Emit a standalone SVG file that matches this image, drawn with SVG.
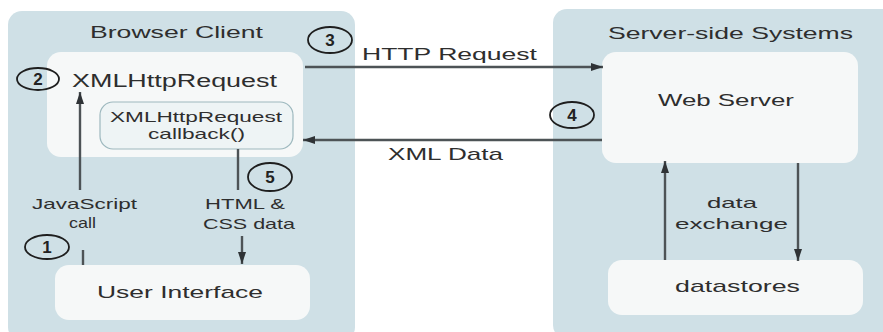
<svg xmlns="http://www.w3.org/2000/svg" width="883" height="332" viewBox="0 0 883 332">
  <style>
    .panel { fill: #cfe0e6; }
    .box { fill: #f6f8f8; }
    .cb { fill: #eef4f5; stroke: #9db8be; stroke-width: 1.2; }
    .t { font-family: "Liberation Sans", Arial, sans-serif; fill: #2e2e2e; }
    .big { font-size: 17px; }
    .med { font-size: 15px; }
    .num { font-family: "Liberation Sans", Arial, sans-serif; font-size: 17px; font-weight: bold; fill: #222; text-anchor: middle; }
    .badge { fill: none; stroke: #1e1e1e; stroke-width: 1.8; }
    .conn { stroke: #4d5356; stroke-width: 2.4; fill: none; }
  </style>
  <defs>
    <marker id="arrow" viewBox="0 0 12 8" refX="12" refY="4" markerWidth="12" markerHeight="8" markerUnits="userSpaceOnUse" orient="auto">
      <path d="M0,0 L12,4 L0,8 z" fill="#2f3336"/>
    </marker>
  </defs>

  <rect width="883" height="332" fill="#ffffff"/>

  <g id="browser-client">
    <rect class="panel" x="8" y="11" width="347" height="330" rx="14"/>
    <text class="t big" x="90" y="38" textLength="173" lengthAdjust="spacingAndGlyphs">Browser Client</text>
  </g>

  <g id="server-side">
    <rect class="panel" x="553" y="9" width="345" height="330" rx="14"/>
    <text class="t big" x="608" y="39" textLength="245" lengthAdjust="spacingAndGlyphs">Server-side Systems</text>
  </g>

  <g id="xhr">
    <rect class="box" x="47" y="52" width="256" height="105" rx="14"/>
    <text class="t" style="font-size:18px" x="72" y="87" textLength="205" lengthAdjust="spacingAndGlyphs">XMLHttpRequest</text>
  </g>

  <g id="callback">
    <rect class="cb" x="100" y="102" width="193" height="47" rx="13"/>
    <text class="t med" x="110" y="122" textLength="172" lengthAdjust="spacingAndGlyphs">XMLHttpRequest</text>
    <text class="t med" x="148" y="139" textLength="97" lengthAdjust="spacingAndGlyphs">callback()</text>
  </g>

  <g id="user-interface">
    <rect class="box" x="55" y="265" width="255" height="55" rx="14"/>
    <text class="t big" x="97" y="298" textLength="166" lengthAdjust="spacingAndGlyphs">User Interface</text>
  </g>

  <g id="web-server">
    <rect class="box" x="602" y="52" width="256" height="111" rx="14"/>
    <text class="t big" x="658" y="106" textLength="136" lengthAdjust="spacingAndGlyphs">Web Server</text>
  </g>

  <g id="datastores">
    <rect class="box" x="608" y="260" width="255" height="55" rx="14"/>
    <text class="t big" x="675" y="292" textLength="125" lengthAdjust="spacingAndGlyphs">datastores</text>
  </g>

  <g id="connectors">
    <line class="conn" x1="80" y1="190" x2="80" y2="92" marker-end="url(#arrow)"/>
    <line class="conn" x1="83" y1="250" x2="83" y2="265"/>
    <line class="conn" x1="238" y1="149" x2="238" y2="190"/>
    <line class="conn" x1="242" y1="236" x2="242" y2="264" marker-end="url(#arrow)"/>
    <line class="conn" x1="305" y1="67" x2="603" y2="67" marker-end="url(#arrow)"/>
    <line class="conn" x1="602" y1="140" x2="303" y2="140" marker-end="url(#arrow)"/>
    <line class="conn" x1="665" y1="260" x2="665" y2="161" marker-end="url(#arrow)"/>
    <line class="conn" x1="798" y1="163" x2="798" y2="261" marker-end="url(#arrow)"/>
  </g>

  <g id="labels">
    <text class="t big" x="362" y="60" textLength="175" lengthAdjust="spacingAndGlyphs">HTTP Request</text>
    <text class="t big" x="388" y="160" textLength="115" lengthAdjust="spacingAndGlyphs">XML Data</text>
    <text class="t med" x="32" y="209" textLength="105" lengthAdjust="spacingAndGlyphs">JavaScript</text>
    <text class="t med" x="69" y="228" textLength="27" lengthAdjust="spacingAndGlyphs">call</text>
    <text class="t med" x="205" y="209" textLength="80" lengthAdjust="spacingAndGlyphs">HTML &amp;</text>
    <text class="t med" x="203" y="229" textLength="92" lengthAdjust="spacingAndGlyphs">CSS data</text>
    <text class="t med" x="707" y="208" textLength="50" lengthAdjust="spacingAndGlyphs">data</text>
    <text class="t med" x="675" y="229" textLength="113" lengthAdjust="spacingAndGlyphs">exchange</text>
  </g>

  <g id="step-1">
    <ellipse class="badge" cx="47" cy="247" rx="22" ry="12"/>
    <text class="num" x="47" y="253">1</text>
  </g>
  <g id="step-2">
    <ellipse class="badge" cx="38" cy="79" rx="21" ry="11"/>
    <text class="num" x="38" y="85">2</text>
  </g>
  <g id="step-3">
    <ellipse class="badge" cx="330" cy="40" rx="22" ry="13"/>
    <text class="num" x="330" y="46">3</text>
  </g>
  <g id="step-4">
    <ellipse class="badge" cx="572" cy="115" rx="22" ry="13"/>
    <text class="num" x="572" y="121">4</text>
  </g>
  <g id="step-5">
    <ellipse class="badge" cx="270" cy="177" rx="22" ry="14"/>
    <text class="num" x="270" y="183">5</text>
  </g>
</svg>
